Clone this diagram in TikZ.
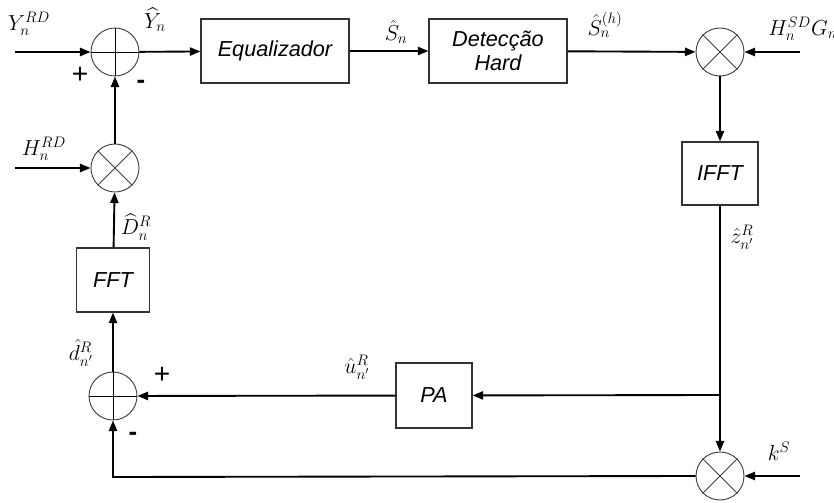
\RequirePackage{fix-cm}
\documentclass[tikz,border=0pt]{standalone}
\usepackage{amsmath}
\usepackage{fontspec}
\setsansfont{Liberation Sans}
\usetikzlibrary{arrows.meta}
\begin{document}
\begin{tikzpicture}[x=0.03cm,y=-0.03cm,
  font=\fontsize{18.5}{21}\selectfont,
  sig/.style={line width=1.6pt,-{Triangle[length=9pt,width=7pt]}},
  wire/.style={line width=1.6pt},
  blockbox/.style={draw=black!80,line width=1pt,font=\fontsize{18.5}{21}\selectfont\sffamily\itshape,align=center,inner sep=0pt},
  junc/.style={circle,draw=black!75,line width=0.8pt,minimum size=1.44cm,inner sep=0pt},
  summer/.style={junc,append after command={
      (\tikzlastnode.north) edge[line width=0.8pt] (\tikzlastnode.south)
      (\tikzlastnode.west) edge[line width=0.8pt] (\tikzlastnode.east)}},
  mixer/.style={junc,append after command={
      (\tikzlastnode.45) edge[line width=0.8pt,draw=black!75] (\tikzlastnode.225)
      (\tikzlastnode.135) edge[line width=0.8pt,draw=black!75] (\tikzlastnode.315)}},
  sign/.style={font=\fontsize{24}{26}\selectfont\sffamily},
  minus/.style={font=\fontsize{22}{24}\selectfont\sffamily\bfseries},
  lbl/.style={inner sep=1pt}]
\useasboundingbox (0,0) rectangle (834,503);

% blocks
\node[summer] (sumA) at (115,52) {};
\node[blockbox,minimum width=4.44cm,minimum height=1.92cm] (eq) at (275,51) {Equalizador};
\node[blockbox,minimum width=4.14cm,minimum height=1.92cm] (det) at (498,51) {Detecção\\Hard};
\node[mixer] (mulA) at (720,52) {};
\node[blockbox,minimum width=2.28cm,minimum height=1.89cm] (ifft) at (720,173.5) {IFFT};
\node[blockbox,minimum width=2.28cm,minimum height=1.95cm] (pa) at (434,395.5) {PA};
\node[mixer] (mulB) at (720,476) {};
\node[summer] (sumB) at (113,396) {};
\node[blockbox,minimum width=2.19cm,minimum height=1.92cm] (fft) at (113,280) {FFT};
\node[mixer] (mulC) at (115,168) {};

% free ends
\coordinate (inY) at (15,52);
\coordinate (inH) at (15,168);
\coordinate (inHSD) at (800,52);
\coordinate (inK) at (800,476);
\coordinate (split) at (720,395);
\coordinate (corner) at (113,477);

% connectors
\draw[sig] (inY) -- (sumA);
\draw[sig] (sumA) -- (eq);
\draw[sig] (eq) -- (det);
\draw[sig] (det) -- (mulA);
\draw[sig] (inHSD) -- (mulA);
\draw[sig] (mulA) -- (ifft);
\draw[wire] (ifft) -- (split);
\draw[sig] (split) -- (mulB);
\draw[sig] (split) -- (pa);
\draw[sig] (pa) -- (sumB);
\draw[sig] (inK) -- (mulB);
\draw[sig] (mulB.west) -- (corner) -- (sumB);
\draw[sig] (sumB) -- (fft);
\draw[sig] (fft) -- (mulC);
\draw[sig] (inH) -- (mulC);
\draw[sig] (mulC) -- (sumA);

% signal labels
\node[lbl] (lY) at (29,24) {$Y_n^{RD}$};
\node[lbl] (lYh) at (155,20) {$\widehat{Y}_n$};
\node[lbl] (lS) at (396,32) {$\hat{S}_n$};
\node[lbl] (lSh) at (605,25) {$\hat{S}_n^{(h)}$};
\node[lbl,anchor=west] (lHSD) at (767,29) {$H_n^{SD}G_n$};
\node[lbl] (lH) at (44,149) {$H_n^{RD}$};
\node[lbl] (lD) at (136,227) {$\widehat{D}_n^{R}$};
\node[lbl] (lz) at (742,237) {$\hat{z}_{n'}^{R}$};
\node[lbl] (ld) at (81,353) {$\hat{d}_{n'}^{R}$};
\node[lbl] (lu) at (357,367) {$\hat{u}_{n'}^{R}$};
\node[lbl] (lk) at (779,451) {$k^S$};

% summing signs
\node[sign] (pA) at (80,75) {+};
\node[minus] (mA) at (141,84) {-};
\node[sign] (pB) at (162,375) {+};
\node[minus] (mB) at (133,436) {-};
\end{tikzpicture}
\end{document}
